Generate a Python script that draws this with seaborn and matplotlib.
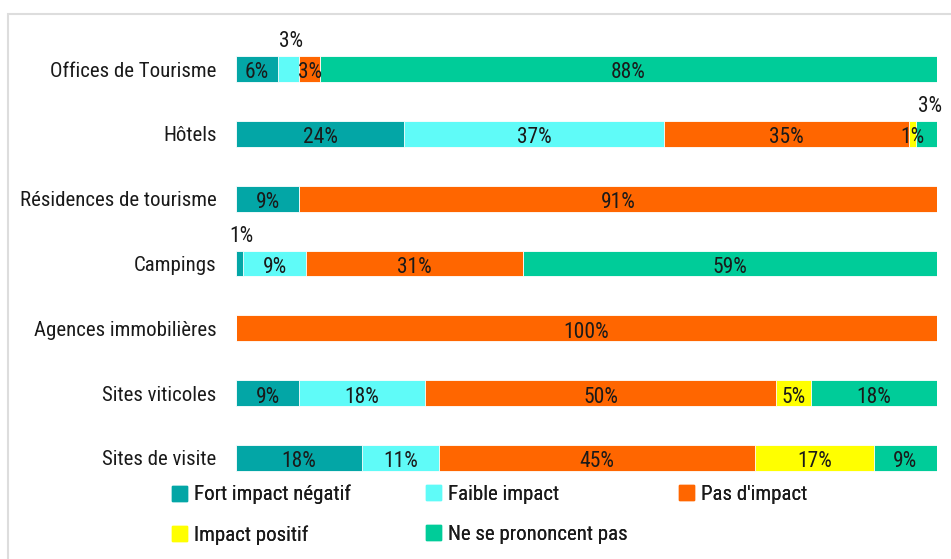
import matplotlib
matplotlib.use("Agg")
import matplotlib.pyplot as plt
import matplotlib.patches as mpatches
from matplotlib import font_manager as fm
import seaborn as sns
import numpy as np
import pandas as pd

categories = ["Offices de Tourisme", "Hôtels", "Résidences de tourisme", "Campings",
              "Agences immobilières", "Sites viticoles", "Sites de visite"]
series = ["Fort impact négatif", "Faible impact", "Pas d'impact", "Impact positif",
          "Ne se prononcent pas"]
fort = [6, 24, 9, 1, 0, 9, 18]
faible = [3, 37, 0, 9, 0, 18, 11]
pas = [3, 35, 91, 31, 100, 50, 45]
positif = [0, 1, 0, 0, 0, 5, 17]
nsp = [88, 3, 0, 59, 0, 18, 9]
colors = ["#03A6A6", "#5FFBF8", "#FF6600", "#FFFF00", "#00CC99"]

sns.set_theme(style="white")
available = {f.name for f in fm.fontManager.ttflist}
chosen = "DejaVu Sans"
for cand in ["Liberation Sans Narrow", "Roboto Condensed", "Open Sans Condensed",
             "Noto Sans Condensed", "Lato"]:
    if cand in available:
        chosen = cand
        break
plt.rcParams["font.family"] = [chosen, "DejaVu Sans"]
narrow = chosen in ("Liberation Sans Narrow", "Roboto Condensed", "Open Sans Condensed",
                    "Noto Sans Condensed")
FS = 15 if narrow else 13.5
TXT = "#1a1a1a"

values = np.array([fort, faible, pas, positif, nsp], dtype=float)
cum = np.cumsum(values, axis=0)

fig = plt.figure(figsize=(9.51, 5.59), dpi=100)
ax = fig.add_axes([236/951, 1-490.4/559, (937-236)/951, (490.4-36.6)/559])

for i in range(len(series) - 1, -1, -1):
    df = pd.DataFrame({"cat": categories, "val": cum[i]})
    sns.barplot(data=df, y="cat", x="val", orient="h", color=colors[i],
                width=0.4, saturation=1, edgecolor="white", linewidth=0.6, ax=ax)

# labels
above = {(0, 1), (3, 0), (1, 4)}
for j in range(len(categories)):
    for i in range(len(series)):
        v = values[i, j]
        if v <= 0:
            continue
        xc = cum[i, j] - v / 2
        txt = f"{int(v)}%"
        if (j, i) in above:
            ax.text(xc + (0.5 if i == 4 else 0.3), j - 0.26, txt, ha="center", va="bottom",
                    fontsize=FS + 0.5, color=TXT)
        else:
            ax.text(xc, j + 0.06, txt, ha="center", va="center", fontsize=FS + 0.5,
                    color=TXT)

ax.set_xlim(0, 100)
ax.set_ylim(6.5, -0.5)
ax.set_xlabel("")
ax.set_ylabel("")
ax.set_xticks([])
ax.tick_params(axis="y", length=0, pad=14, labelsize=FS, labelcolor=TXT)
for s in ax.spines.values():
    s.set_visible(False)

handles = [mpatches.Patch(color=c) for c in colors]
columns = [([0, 3], 172), ([1, 4], 426), ([2], 679)]
for idxs, xpix in columns:
    leg = fig.legend([handles[k] for k in idxs], [series[k] for k in idxs], ncol=1,
                     loc="upper left", bbox_to_anchor=(xpix/951, 1-485/559), frameon=False,
                     fontsize=FS, handlelength=0.7, handleheight=0.7, handletextpad=0.35,
                     labelspacing=1.0, borderaxespad=0, borderpad=0, labelcolor=TXT)
    fig.add_artist(leg)

fig.patches.append(mpatches.Rectangle((8/951, -0.1), 1.1, 1 - 14/559 + 0.1,
                                      transform=fig.transFigure, fill=False,
                                      edgecolor="#DDDDDD", linewidth=1.5))

fig.savefig("out.png", dpi=100)
